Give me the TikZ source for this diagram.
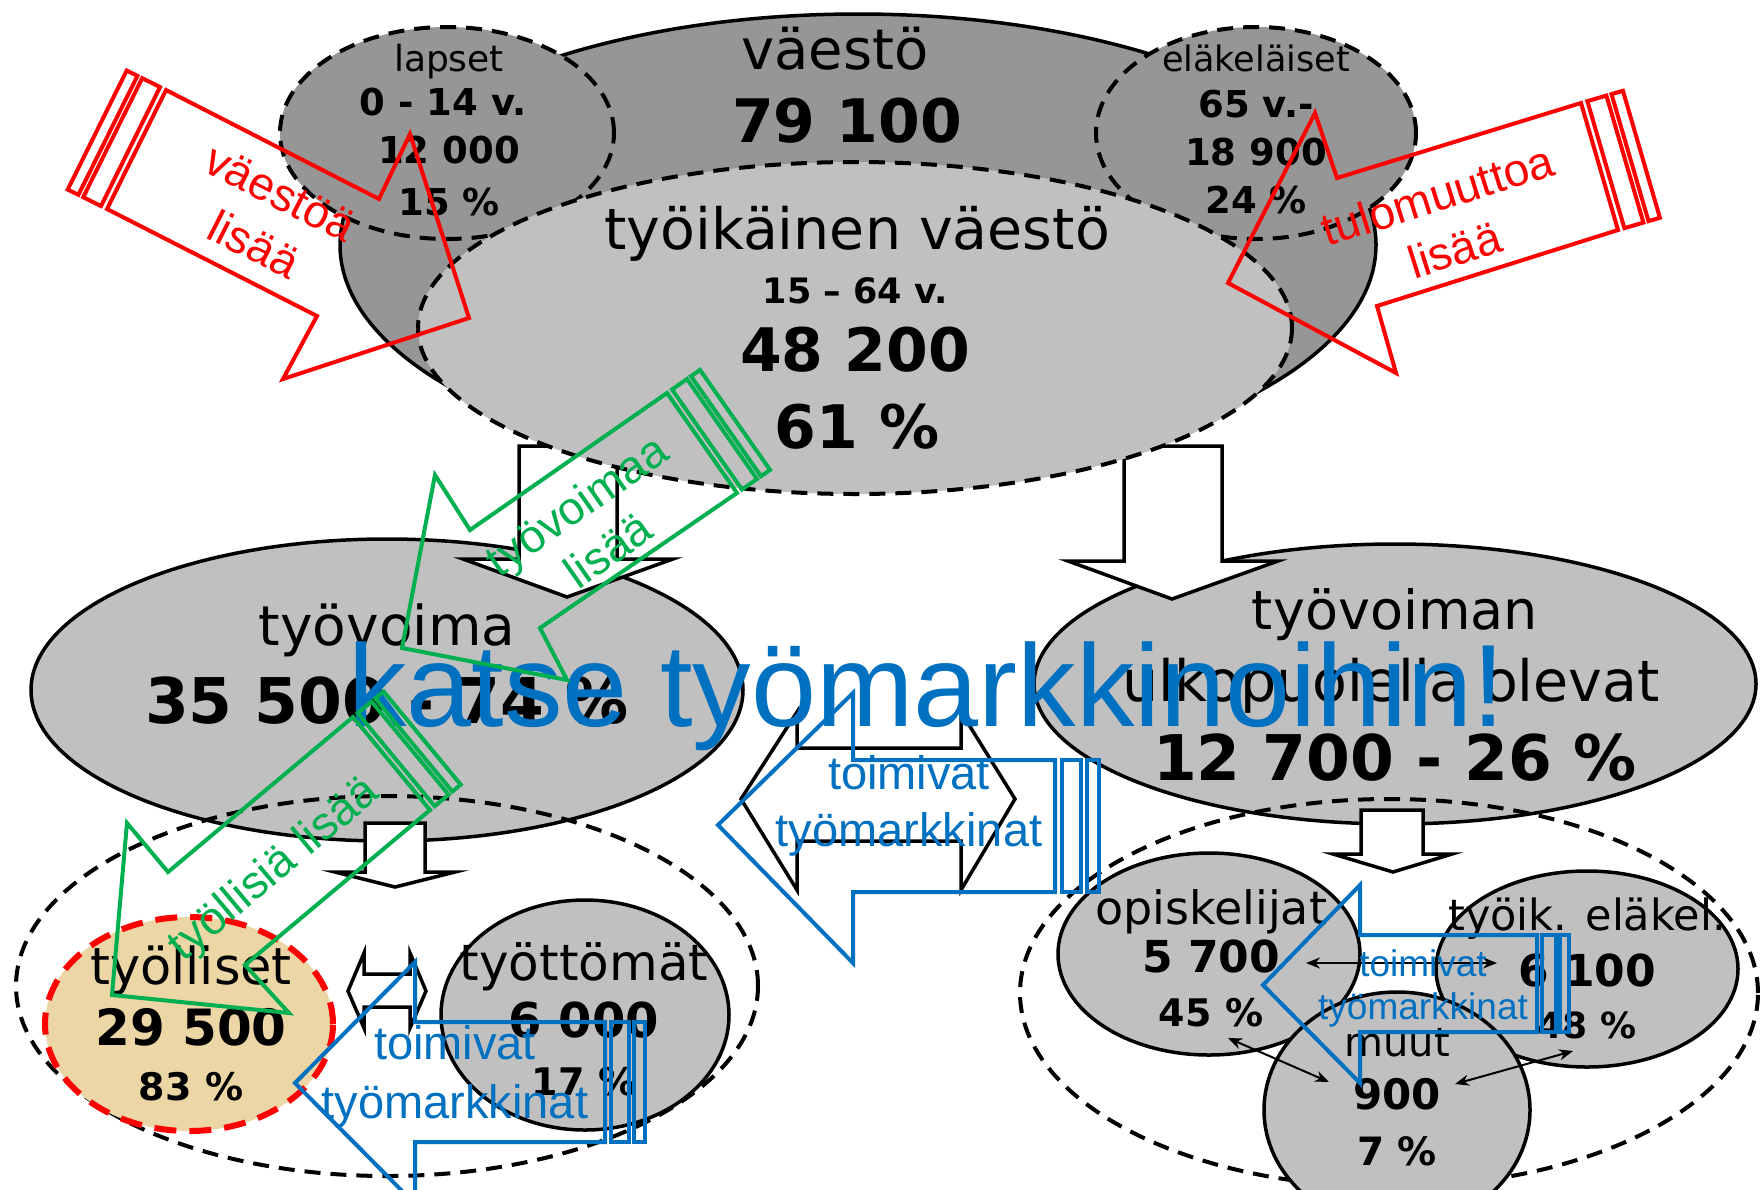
\documentclass[tikz,border=0pt]{standalone}
\usepackage{fontspec}
\setmainfont{DejaVu Sans}
\newfontfamily\arialfont{Liberation Sans}
\usetikzlibrary{shapes,arrows.meta,calc}
\definecolor{darkgrey}{RGB}{150,150,150}
\definecolor{lightgrey}{RGB}{192,192,192}
\definecolor{papyrus}{RGB}{236,214,166}
\definecolor{arrowred}{RGB}{255,0,0}
\definecolor{arrowgreen}{RGB}{0,176,80}
\definecolor{arrowblue}{RGB}{0,112,192}
\newcommand\fsz[2]{\fontsize{#1}{#2}\selectfont}
% two stripes behind the end edge P--Q of a callout arrow
\newcommand\stripes[3]{%
  \foreach \a/\b in {0.05/0.2,0.24/0.33}
    \draw[callout,#3] ($(#1)!\a!90:(#2)$) -- ($(#1)!\b!90:(#2)$) -- ($(#2)!\b!-90:(#1)$) -- ($(#2)!\a!-90:(#1)$) -- cycle;
}
\tikzset{
  blob/.style={ellipse,draw,line width=3.5pt,inner sep=0pt,outer sep=0pt},
  dashblob/.style={blob,line width=4pt,dash pattern=on 16pt off 10pt},
  lbl/.style={inner sep=0pt,font=\fsz{#1}{#1},text height=0.7*#1pt,text depth=0pt},
  num/.style={inner sep=0pt,font=\bfseries\fsz{#1}{#1},text height=0.7*#1pt,text depth=0pt},
  blockarrow/.style={draw,fill=white,line width=3.5pt,line join=miter},
  callout/.style={line width=4pt,line join=miter},
  calltext/.style={inner sep=0pt,align=center},
  link/.style={line width=2pt,{Stealth[length=14pt,width=11pt]}-{Stealth[length=14pt,width=11pt]}}
}
\begin{document}
\begin{tikzpicture}[x=1pt,y=-1pt]
\useasboundingbox (0,0) rectangle (1760,1189);
\clip (0,0) rectangle (1760,1189);

% labour force level
\node[blob,fill=lightgrey,minimum width=712pt,minimum height=302pt] (tyovoima) at (387,690) {};
\node[blob,fill=lightgrey,minimum width=722pt,minimum height=280pt] (ulkop) at (1395,684) {};

\draw[blockarrow] (519,446) -- (617,446) -- (617,559) -- (673,559) -- (567,597) -- (463,559) -- (519,559) -- cycle;
\draw[blockarrow] (1124,446) -- (1222,446) -- (1222,561) -- (1278,561) -- (1172,599) -- (1068,561) -- (1124,561) -- cycle;

% population
\node[blob,fill=darkgrey,minimum width=1036pt,minimum height=462pt] (vaesto) at (858,245) {};
\node[dashblob,fill=darkgrey,minimum width=334pt,minimum height=212pt] (lapset) at (447,133) {};
\node[dashblob,fill=darkgrey,minimum width=320pt,minimum height=212pt] (elakel) at (1256,133) {};
\node[dashblob,fill=lightgrey,minimum width=874pt,minimum height=332pt] (tyoik) at (855,328) {};

\node[lbl=56] (tvaesto) at (835,50) {väestö};
\node[num=60] (nvaesto) at (847,121) {79 100};
\node[lbl=36] (tlapset) at (449,59) {lapset};
\node[num=37] (ilapset) at (443,103) {0 - 14 v.};
\node[num=37] (nlapset) at (449,151) {12 000};
\node[num=37] (plapset) at (449,203) {15 \%};
\node[lbl=35] (telakel) at (1256,59) {eläkeläiset};
\node[num=37] (ielakel) at (1256,105) {65 v.-};
\node[num=37] (nelakel) at (1256,153) {18 900};
\node[num=37] (pelakel) at (1256,201) {24 \%};
\node[lbl=57] (ttyoik) at (857,230) {työikäinen väestö};
\node[num=35] (ityoik) at (855,291) {15 – 64 v.};
\node[num=60] (ntyoik) at (855,350) {48 200};
\node[num=60] (ptyoik) at (857,427) {61 \%};

\node[lbl=55] (ttyovoima) at (387,626) {työvoima};
\node[num=63] (ntyovoima) at (387,701) {35 500 - 74 \%};
\node[lbl=54] (tulkop) at (1395,611) {työvoiman};
\node[lbl=57] (tulkop2) at (1391,682) {ulkopuolella olevat};
\node[num=63] (nulkop) at (1395,758) {12 700 - 26 \%};

\draw[blockarrow] (365,823) -- (425,823) -- (425,872) -- (455,872) -- (395,887) -- (335,872) -- (365,872) -- cycle;
\draw[blockarrow] (1361,810) -- (1423,810) -- (1423,854) -- (1452,854) -- (1393,872) -- (1333,854) -- (1361,854) -- cycle;

% groups
\node[dashblob,minimum width=742pt,minimum height=380pt] (vasen) at (387,986) {};
\node[dashblob,minimum width=738pt,minimum height=388pt] (oikea) at (1389,993) {};

\node[ellipse,draw=arrowred,fill=papyrus,line width=6pt,dash pattern=on 22pt off 13pt,inner sep=0pt,minimum width=288pt,minimum height=214pt] (tyolliset) at (189,1024) {};
\node[blob,fill=lightgrey,minimum width=288pt,minimum height=230pt] (tyottomat) at (585,1015) {};
\node[blob,fill=lightgrey,minimum width=302pt,minimum height=202pt] (opisk) at (1209,954) {};
\node[blob,fill=lightgrey,minimum width=302pt,minimum height=196pt] (elak) at (1587,969) {};
\node[blob,fill=lightgrey,minimum width=266pt,minimum height=236pt] (muut) at (1397,1110) {};

\node[lbl=51] (ttyolliset) at (191,967) {työlliset};
\node[num=50] (ntyolliset) at (191,1028) {29 500};
\node[num=38] (ptyolliset) at (191,1087) {83 \%};
\node[lbl=50] (ttyottomat) at (584,963) {työttömät};
\node[num=48] (ntyottomat) at (584,1021) {6 000};
\node[num=38] (ptyottomat) at (584,1082) {17 \%};
\node[lbl=46] (topisk) at (1211,908) {opiskelijat};
\node[num=44] (nopisk) at (1211,957) {5 700};
\node[num=38] (popisk) at (1211,1013) {45 \%};
\node[lbl=43] (telak) at (1587,915) {työik. eläkel.};
\node[num=44] (nelak) at (1587,971) {6 100};
\node[num=36] (pelak) at (1587,1026) {48 \%};
\node[lbl=40] (tmuut) at (1397,1042) {muut};
\node[num=42] (nmuut) at (1397,1095) {900};
\node[num=39] (pmuut) at (1397,1152) {7 \%};

\coordinate (l1a) at (1306,963);
\coordinate (l1b) at (1497,963);
\coordinate (l2a) at (1228,1038);
\coordinate (l2b) at (1329,1082);
\coordinate (l3a) at (1455,1084);
\coordinate (l3b) at (1573,1051);
\draw[link] (l1a) -- (l1b);
\draw[link] (l2a) -- (l2b);
\draw[link] (l3a) -- (l3b);

% two-way block arrows
\draw[blockarrow] (741,799) -- (797,712) -- (797,748) -- (961,748) -- (961,712) -- (1015,799) -- (961,890) -- (961,841) -- (797,841) -- (797,890) -- cycle;
\draw[blockarrow] (348,991) -- (364,953) -- (364,974) -- (410,974) -- (410,953) -- (426,991) -- (410,1028) -- (410,1007) -- (364,1007) -- (364,1028) -- cycle;

\node[anchor=base west,inner sep=0pt,font=\arialfont\fsz{117}{117},text=arrowblue] (katse) at (348,726) {katse työmarkkinoihin!};

% red callouts
\coordinate (rlP) at (107,209);
\coordinate (rlQ) at (166,90);
\draw[callout,arrowred] (rlQ) -- (379,199) -- (410,134) -- (469,318) -- (283,379) -- (317,316) -- (rlP) -- cycle;
\stripes{rlP}{rlQ}{arrowred}
\node[calltext,text=arrowred,rotate=-27,font=\arialfont\fsz{46}{58}] (tvlisaa) at (267,219) {väestöä\\lisää};

\coordinate (rrP) at (1581,103);
\coordinate (rrQ) at (1618,230);
\draw[callout,arrowred] (rrP) -- (1337,178) -- (1315,113) -- (1228,283) -- (1396,373) -- (1377,306) -- (rrQ) -- cycle;
\stripes{rrP}{rrQ}{arrowred}
\node[calltext,text=arrowred,rotate=17.5,font=\arialfont\fsz{46}{57}] (ttulo) at (1446,222) {tulomuuttoa\\lisää};

% green callouts
\coordinate (g1P) at (667,393);
\coordinate (g1Q) at (737,493);
\draw[callout,arrowgreen] (g1P) -- (470,530) -- (435,475) -- (402,648) -- (567,680) -- (540,628) -- (g1Q) -- cycle;
\stripes{g1P}{g1Q}{arrowgreen}
\node[calltext,text=arrowgreen,rotate=35,font=\arialfont\fsz{46}{55}] (ttvlisaa) at (592,527) {työvoimaa\\lisää};

\coordinate (g2P) at (353,717);
\coordinate (g2Q) at (430,810);
\draw[callout,arrowgreen] (g2P) -- (168,872) -- (127,823) -- (112,995) -- (289,1013) -- (245,965) -- (g2Q) -- cycle;
\stripes{g2P}{g2Q}{arrowgreen}
\node[calltext,text=arrowgreen,rotate=40,font=\arialfont\fsz{46}{55}] (ttylisaa) at (275,870) {työllisiä lisää};

% blue callouts
\coordinate (b1P) at (1055,760);
\coordinate (b1Q) at (1055,892);
\draw[callout,arrowblue] (b1P) -- (853,760) -- (853,693) -- (718,825) -- (853,963) -- (853,892) -- (b1Q) -- cycle;
\stripes{b1P}{b1Q}{arrowblue}
\node[calltext,text=arrowblue,font=\arialfont\fsz{47}{57}] (tmark1) at (909,806) {toimivat\\työmarkkinat};

\coordinate (b2P) at (605,1022);
\coordinate (b2Q) at (605,1142);
\draw[callout,arrowblue] (b2P) -- (415,1022) -- (415,962) -- (295,1083) -- (415,1204) -- (415,1142) -- (b2Q) -- cycle;
\stripes{b2P}{b2Q}{arrowblue}
\node[calltext,text=arrowblue,font=\arialfont\fsz{47}{59}] (tmark2) at (455,1077) {toimivat\\työmarkkinat};

\coordinate (b3P) at (1537,935);
\coordinate (b3Q) at (1537,1032);
\draw[callout,arrowblue] (b3P) -- (1360,935) -- (1360,885) -- (1263,985) -- (1360,1083) -- (1360,1032) -- (b3Q) -- cycle;
\stripes{b3P}{b3Q}{arrowblue}
\node[calltext,text=arrowblue,font=\arialfont\fsz{37}{43}] (tmark3) at (1423,988) {toimivat\\työmarkkinat};
\end{tikzpicture}
\end{document}
